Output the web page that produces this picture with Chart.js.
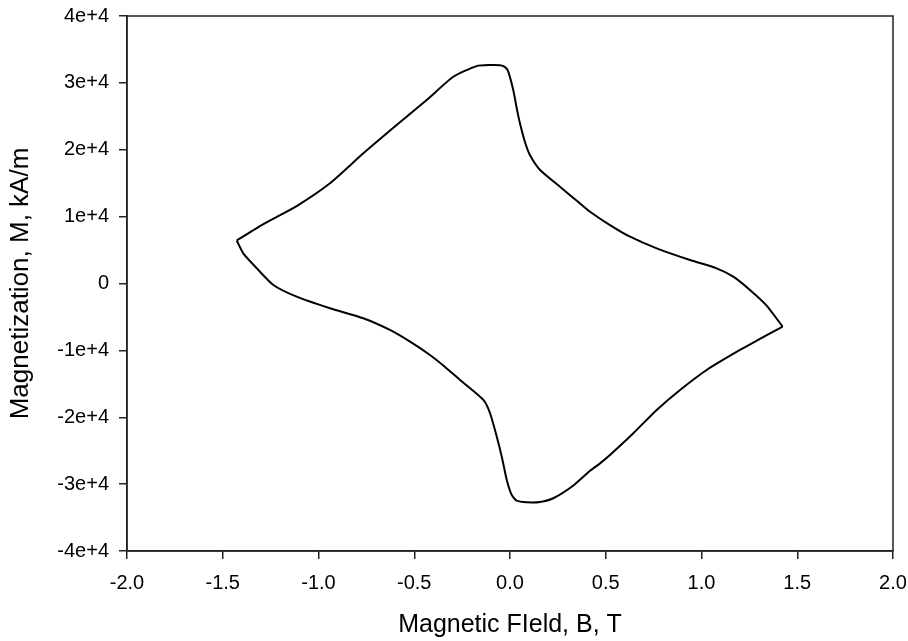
<!DOCTYPE html>
<html>
<head>
<meta charset="utf-8">
<script src="https://cdn.jsdelivr.net/npm/chart.js@4"></script>
<style>
  body { margin: 0; background: #fff; }
  #wrap { width: 908px; height: 641px; }
</style>
</head>
<body>
<div id="wrap"><canvas id="loopChart"></canvas></div>
<script>
// upper branch, left tip -> right tip (B in T, M in kA/m)
const fieldUp = [-1.427, -1.288, -1.114, -0.940, -0.766, -0.592, -0.435, -0.296, -0.174, -0.104, -0.052, -0.026, -0.010,
  0.017, 0.037, 0.052, 0.078, 0.104, 0.157, 0.261, 0.360, 0.418, 0.522, 0.627, 0.766, 0.940, 1.079, 1.166, 1.253, 1.340, 1.424];
const magUp = [6430, 8890, 11580, 14980, 19460, 23690, 27430, 30910, 32510, 32660, 32620, 32360, 31760,
  28920, 25930, 23950, 21150, 19210, 16970, 14470, 12100, 10730, 8740, 7000, 5260, 3510, 2270, 1020, -970, -3300, -6460];

// lower branch, right tip -> left tip
const fieldDown = [1.424, 1.358, 1.201, 1.027, 0.888, 0.766, 0.644, 0.522, 0.470, 0.418, 0.331, 0.226, 0.157, 0.087, 0.035, 0.009,
  -0.017, -0.043, -0.069, -0.104, -0.139, -0.261, -0.339, -0.418, -0.522, -0.627, -0.766, -0.940, -1.114, -1.236, -1.323, -1.393, -1.427];
const magDown = [-6460, -7440, -9940, -12930, -15920, -18910, -22390, -25640, -26900, -28000, -30200, -32110, -32660, -32710, -32470, -31610,
  -29370, -25890, -22900, -19400, -17410, -14420, -12480, -10690, -8700, -6950, -5200, -3710, -1970, -220, 2300, 4510, 6430];

const xTickLabels = ['-2.0', '-1.5', '-1.0', '-0.5', '0.0', '0.5', '1.0', '1.5', '2.0'];
const yTickLabels = ['-4e+4', '-3e+4', '-2e+4', '-1e+4', '0', '1e+4', '2e+4', '3e+4', '4e+4'];

const toPoints = (xs, ys) => xs.map((b, i) => ({ x: b, y: ys[i] }));

Chart.defaults.font.family = "'Liberation Sans', Arial, sans-serif";
Chart.defaults.color = '#000';

// box round the plot area
const frame = {
  id: 'frame',
  afterDraw(chart) {
    const { ctx, chartArea: a } = chart;
    ctx.save();
    ctx.strokeStyle = '#222';
    ctx.lineWidth = 1.5;
    ctx.strokeRect(a.left, a.top, a.right - a.left, a.bottom - a.top);
    ctx.restore();
  }
};

const branchStyle = {
  showLine: true,
  borderColor: '#000',
  borderWidth: 2,
  pointRadius: 0,
  tension: 0.2
};

new Chart(document.getElementById('loopChart'), {
  type: 'scatter',
  data: {
    datasets: [
      { ...branchStyle, data: toPoints(fieldUp, magUp) },
      { ...branchStyle, data: toPoints(fieldDown, magDown) }
    ]
  },
  options: {
    responsive: true,
    maintainAspectRatio: false,
    animation: false,
    layout: { padding: { left: 0, top: 16, right: 15, bottom: 0 } },
    plugins: { legend: { display: false }, tooltip: { enabled: false } },
    scales: {
      x: {
        min: -2, max: 2,
        afterFit(scale) {
          scale.height = 90;
          scale.paddingLeft = 0;
          scale.paddingRight = 0;
        },
        ticks: {
          stepSize: 0.5,
          padding: 12,
          font: { size: 20 },
          callback: (v, i) => xTickLabels[i]
        },
        grid: { drawOnChartArea: false, tickLength: 8, color: '#222', lineWidth: 1.5 },
        border: { color: '#222', width: 1.5 },
        title: {
          display: true,
          text: 'Magnetic FIeld, B, T',
          font: { size: 25 },
          padding: { top: 0, bottom: 1 }
        }
      },
      y: {
        min: -40000, max: 40000,
        afterFit(scale) {
          scale.width = 127;
          scale.paddingTop = 0;
          scale.paddingBottom = 0;
        },
        ticks: {
          stepSize: 10000,
          padding: 10,
          font: { size: 20 },
          callback: (v, i) => yTickLabels[i]
        },
        grid: { drawOnChartArea: false, tickLength: 8, color: '#222', lineWidth: 1.5 },
        border: { color: '#222', width: 1.5 },
        title: {
          display: true,
          text: 'Magnetization, M, kA/m',
          font: { size: 26 },
          padding: { top: 5, bottom: 0 }
        }
      }
    }
  },
  plugins: [frame]
});
</script>
</body>
</html>
